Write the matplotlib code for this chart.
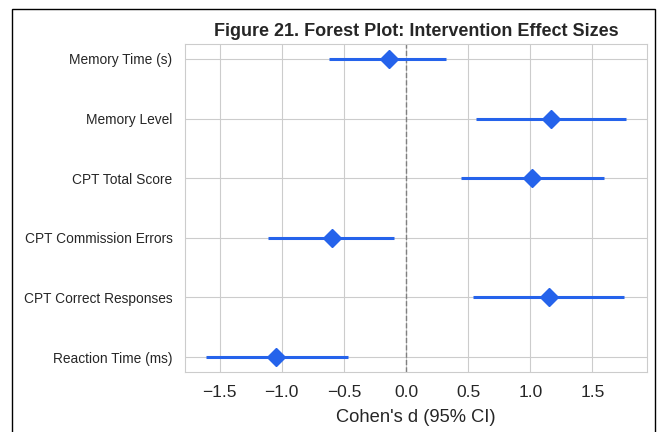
import matplotlib.pyplot as plt
import seaborn as sns
from matplotlib.patches import Rectangle

sns.set_style("whitegrid")
plt.rcParams['font.family'] = ['Liberation Sans', 'DejaVu Sans']

# Dados
outcomes = ["Memory Time (s)", "Memory Level", "CPT Total Score",
            "CPT Commission Errors", "CPT Correct Responses", "Reaction Time (ms)"]
effect = [-0.14, 1.17, 1.01, -0.60, 1.15, -1.05]
ci_low = [-0.62, 0.56, 0.44, -1.11, 0.54, -1.61]
ci_high = [0.32, 1.77, 1.59, -0.10, 1.75, -0.47]

cor = "#2563eb"

fig = plt.figure(figsize=(6.62, 4.32), dpi=100)
ax = fig.add_axes([185/662, 1-372/432, (647-185)/662, (372-44)/432])

ypos = list(range(len(outcomes)))
err = [[e - lo for e, lo in zip(effect, ci_low)], [hi - e for e, hi in zip(effect, ci_high)]]
ax.errorbar(effect, ypos, xerr=err, fmt='D', color=cor, ecolor=cor,
            elinewidth=2.2, markersize=9, capsize=0, zorder=3)
ax.axvline(0, color='gray', linestyle='--', linewidth=1, zorder=2)

ax.set_yticks(ypos)
ax.set_yticklabels(outcomes, fontsize=9.9)
ax.invert_yaxis()
ax.tick_params(axis='y', pad=5.5)
ax.tick_params(axis='x', labelsize=12.5, pad=6)
ax.set_xlabel("Cohen's d (95% CI)", fontsize=13.2, labelpad=6)
ax.set_title("Figure 21. Forest Plot: Intervention Effect Sizes", fontsize=13, fontweight='bold', pad=6)
for s in ax.spines.values():
    s.set_color('#cccccc')

# moldura preta da figura
fig.patches.append(Rectangle((12/662, -0.1), (655-12)/662, 1.1 - 9/432, transform=fig.transFigure,
                             fill=False, edgecolor='black', linewidth=1))

fig.savefig("out.png", dpi=100)
